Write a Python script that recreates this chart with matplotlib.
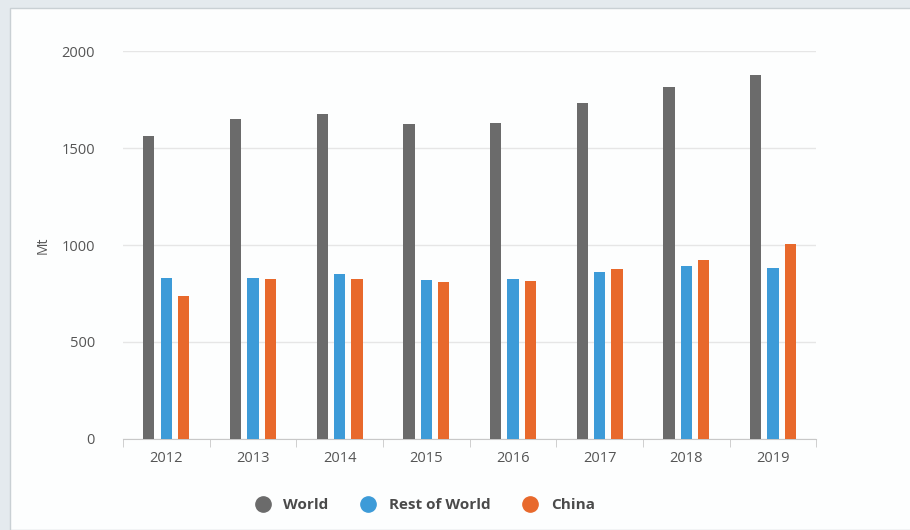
import numpy as np
import matplotlib
matplotlib.use('Agg')
from matplotlib import pyplot as plt
from matplotlib.lines import Line2D
from matplotlib.patches import Rectangle

years = ['2012', '2013', '2014', '2015', '2016', '2017', '2018', '2019']
world = [1562, 1651, 1677, 1623, 1633, 1733, 1815, 1876]
rest_of_world = [831, 831, 852, 820, 827, 862, 890, 881]
china = [735, 824, 824, 811, 813, 878, 921, 1005]

series_names = ['World', 'Rest of World', 'China']
colors = ['#6b6b6b', '#3d9bd8', '#e8692c']

plt.rcParams['font.family'] = ['Open Sans', 'DejaVu Sans']

fig = plt.figure(figsize=(9.1, 5.3), dpi=100)
fig.patch.set_facecolor('#e4eaee')
# white panel like the scanned page
fig.patches.append(Rectangle((10 / 910, 0), 1, 1 - 8 / 530, transform=fig.transFigure,
                             facecolor='#fdfefe', edgecolor='#c9d0d4', lw=1.0, zorder=-10))

ax = fig.add_axes([0.135, 0.172, 0.762, 0.731])
ax.set_facecolor('none')

x = np.arange(len(years))
w = 0.13
off = 0.2
for i, (vals, name, c) in enumerate(zip([world, rest_of_world, china], series_names, colors)):
    ax.bar(x + (i - 1) * off, vals, width=w, color=c, label=name, zorder=3)

ax.set_xlim(-0.5, len(years) - 0.5)
ax.set_ylim(0, 2000)
ax.set_yticks([0, 500, 1000, 1500, 2000])
ax.yaxis.grid(True, color='#e6e6e6', lw=1.0, zorder=0)
ax.set_xticks(x)
ax.set_xticklabels(years)
ax.set_xticks(np.arange(-0.5, len(years)), minor=True)
ax.tick_params(axis='x', which='major', length=0, pad=9, labelsize=10.5, labelcolor='#555555')
ax.tick_params(axis='x', which='minor', length=6, color='#c8c8c8', direction='out')
ax.tick_params(axis='y', length=0, pad=20, labelsize=10.5, labelcolor='#555555')

for s in ['top', 'right', 'left']:
    ax.spines[s].set_visible(False)
ax.spines['bottom'].set_color('#c8c8c8')

ax.set_ylabel('Mt', fontsize=10, color='#555555', labelpad=8)

handles = [Line2D([], [], marker='o', ls='', markersize=11, color=c) for c in colors]
leg = fig.legend(handles, series_names, loc='center', bbox_to_anchor=(421 / 910, 1 - 505 / 530),
                 ncol=3, frameon=False, handletextpad=0.35, columnspacing=1.6,
                 prop={'size': 11, 'weight': 'bold'})
for t in leg.get_texts():
    t.set_color('#4a4a4a')

plt.savefig('out.png', dpi=100, facecolor=fig.get_facecolor())
plt.close('all')
